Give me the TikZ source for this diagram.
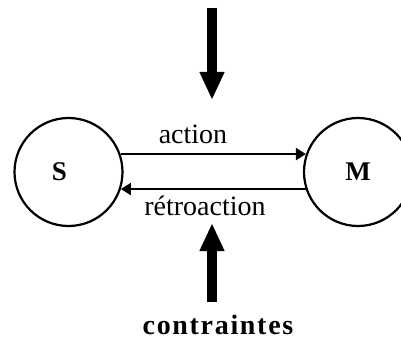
\documentclass[tikz,border=0pt]{standalone}
\usepackage{fontspec}
\setmainfont{Liberation Serif}
\usetikzlibrary{arrows.meta}

\begin{document}
\begin{tikzpicture}[x=1pt, y=-1pt,
  state/.style={draw, circle, line width=2.2pt, minimum size=108pt, inner sep=0pt},
  thin arrow/.style={line width=2pt, -{Triangle[length=10pt, width=12pt]}},
  big arrow/.style={line width=10pt, -{Triangle[length=28pt, width=23pt]}},
  every node/.style={font=\fontsize{28}{32}\selectfont}]

\useasboundingbox (0, 0) rectangle (401, 342);

% systems S and M
\node[state] at ( 68.5, 172) (S) {};
\node[font=\fontsize{27}{32}\selectfont\bfseries] at (59.5, 172) (slabel) {S};
\node[state] at (358, 172) (M) {\fontsize{27}{32}\selectfont\bfseries M};

% action and feedback
\draw[thin arrow] (S.19) -- (M.161);
\draw[thin arrow] (M.198) -- (S.-18);
\node[anchor=base] at (193, 143) (action) {action};
\node[anchor=base] at (205, 215) (retro) {rétroaction};

% constraints from above and below
\coordinate (topstart) at (212, 8);
\coordinate (toptip) at (212, 100);
\coordinate (botstart) at (212, 302);
\coordinate (bottip) at (212, 223);
\draw[big arrow] (topstart) -- (toptip);
\draw[big arrow] (botstart) -- (bottip);
\node[anchor=base, font=\fontsize{28}{32}\selectfont\bfseries\addfontfeature{LetterSpace=6}] at (218, 334) (contr) {contraintes};

\end{tikzpicture}
\end{document}
